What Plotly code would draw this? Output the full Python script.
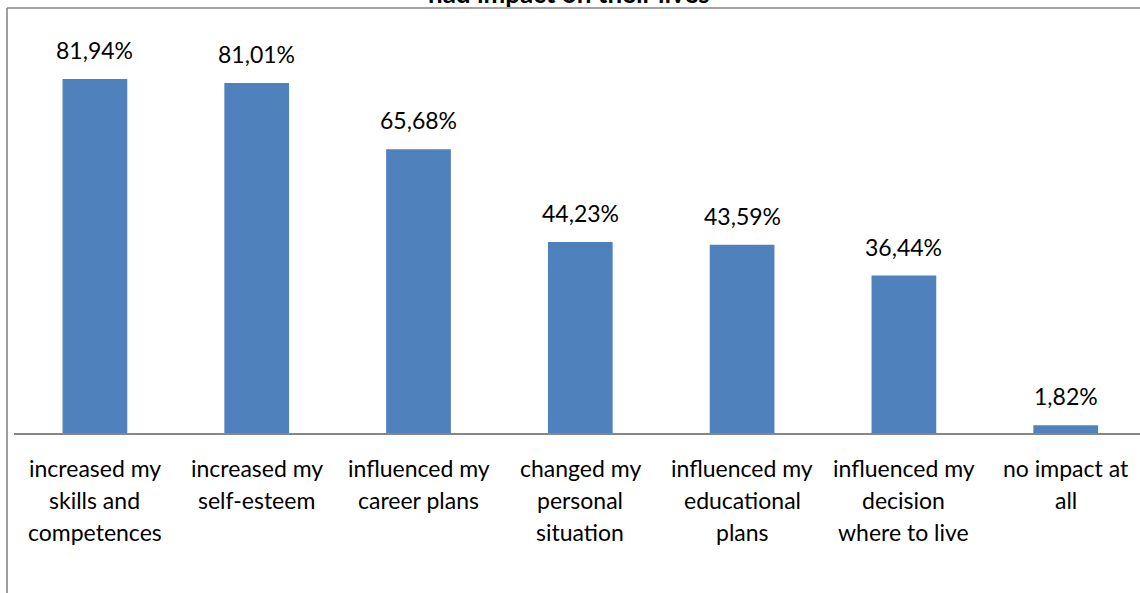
import plotly.graph_objects as go

categories = [
    "increased my\nskills and\ncompetences",
    "increased my\nself-esteem",
    "influenced my\ncareer plans",
    "changed my\npersonal\nsituation",
    "influenced my\neducational\nplans",
    "influenced my\ndecision\nwhere to live",
    "no impact at\nall",
]
values = [81.94, 81.01, 65.68, 44.23, 43.59, 36.44, 1.82]
title_text = "had impact on their lives"

W, H = 1140, 593
ml, mr, mt, mb = 14, 0, 9, 160
pw, ph = W - ml - mr, H - mt - mb
cat_px = 161.8
x_hi = -0.5 + pw / cat_px
y_top = ph / 4.32

FONT = "Lato"
BLUE = "#4f81bd"
GREY = "#868686"

xs = list(range(len(categories)))
fig = go.Figure(go.Bar(x=xs, y=values, width=0.4, marker=dict(color=BLUE, line=dict(width=0)),
                       hoverinfo="skip"))

ann = []
for i, v in enumerate(values):
    ann.append(dict(x=i, y=v, xref="x", yref="y", text=f"{v:.2f}%".replace(".", ","),
                    showarrow=False, yanchor="bottom", yshift=13,
                    font=dict(family=FONT, size=23, color="#000")))
    for j, line in enumerate(categories[i].split("\n")):
        ann.append(dict(x=i, y=0, xref="x", yref="y", text=line, showarrow=False,
                        yanchor="middle", yshift=-35 - 32 * j,
                        font=dict(family=FONT, size=23, color="#000")))

# chart title sits at the very top edge of the page
ann.append(dict(x=(569 - ml) / pw, y=(ph + mt - 11) / ph, xref="paper", yref="paper",
                text=f"<b>{title_text}</b>", showarrow=False, yanchor="bottom",
                font=dict(family=FONT, size=26, color="#000")))

fx0 = (7 - ml) / pw
fy1 = (H - mb - 8) / ph
shapes = [
    dict(type="line", xref="paper", yref="paper", x0=fx0, x1=1.05, y0=fy1, y1=fy1,
         line=dict(color=GREY, width=1.6)),
    dict(type="line", xref="paper", yref="paper", x0=fx0, x1=fx0, y0=fy1, y1=-0.5,
         line=dict(color=GREY, width=1.6)),
]

fig.update_layout(
    width=W, height=H,
    margin=dict(l=ml, r=mr, t=mt, b=mb),
    paper_bgcolor="white", plot_bgcolor="white",
    showlegend=False,
    xaxis=dict(range=[-0.5, x_hi], showticklabels=False, ticks="", showgrid=False,
               zeroline=False, showline=True, linecolor=GREY, linewidth=1.6),
    yaxis=dict(range=[0, y_top], visible=False, showgrid=False, zeroline=False),
    annotations=ann,
    shapes=shapes,
)

fig.write_html("out.html")
